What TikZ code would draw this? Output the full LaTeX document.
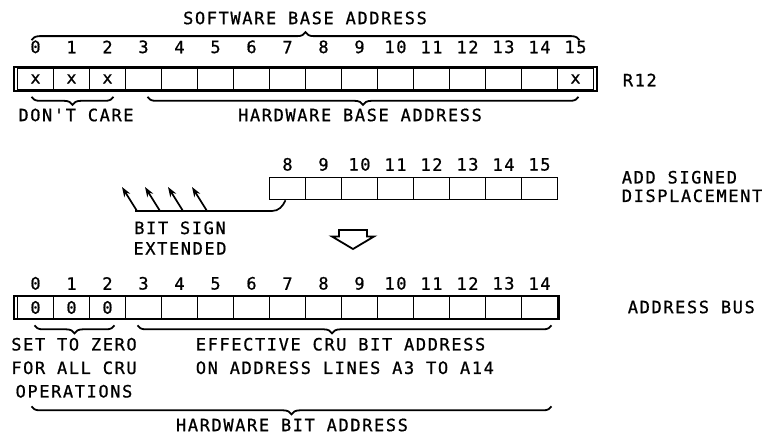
\documentclass[tikz,border=0pt]{standalone}
\usepackage{fontspec}
\usepackage{tikz}
\usetikzlibrary{arrows.meta, decorations.pathreplacing}
\newfontfamily\dinfont[LetterSpace=9.4, FakeBold=0.8]{DejaVu Sans Mono}
\newcommand{\dinsize}{\dinfont\fontsize{17}{23.5}\selectfont}

\begin{document}
\begin{tikzpicture}[x=1pt, y=-1pt, line width=1.7pt,
    cell/.style={draw, rectangle, minimum width=36pt, minimum height=22pt, inner sep=0pt, font=\dinsize},
    num/.style={font=\dinsize, inner sep=0pt},
    txt/.style={font=\dinsize, inner sep=0pt},
    frame/.style={line width=1.9pt},
    brace/.style={decorate, decoration={brace, amplitude=8pt}, line width=1.8pt},
    conn/.style={line width=1.7pt}]

        \useasboundingbox (0,0) rectangle (766,435);

        % Register R12 (software base address)
        \node[cell, label={[num, label distance=13pt]above:0}] (r0) at (35.5,79) {x};
        \node[cell, label={[num, label distance=13pt]above:1}] (r1) at (71.5,79) {x};
        \node[cell, label={[num, label distance=13pt]above:2}] (r2) at (107.5,79) {x};
        \node[cell, label={[num, label distance=13pt]above:3}] (r3) at (143.5,79) {};
        \node[cell, label={[num, label distance=13pt]above:4}] (r4) at (179.5,79) {};
        \node[cell, label={[num, label distance=13pt]above:5}] (r5) at (215.5,79) {};
        \node[cell, label={[num, label distance=13pt]above:6}] (r6) at (251.5,79) {};
        \node[cell, label={[num, label distance=13pt]above:7}] (r7) at (287.5,79) {};
        \node[cell, label={[num, label distance=13pt]above:8}] (r8) at (323.5,79) {};
        \node[cell, label={[num, label distance=13pt]above:9}] (r9) at (359.5,79) {};
        \node[cell, label={[num, label distance=13pt]above:10}] (r10) at (395.5,79) {};
        \node[cell, label={[num, label distance=13pt]above:11}] (r11) at (431.5,79) {};
        \node[cell, label={[num, label distance=13pt]above:12}] (r12) at (467.5,79) {};
        \node[cell, label={[num, label distance=13pt]above:13}] (r13) at (503.5,79) {};
        \node[cell, label={[num, label distance=13pt]above:14}] (r14) at (539.5,79) {};
        \node[cell, label={[num, label distance=13pt]above:15}] (r15) at (575.5,79) {x};
        \draw[frame] ([xshift=-3pt]r0.north west) rectangle ([xshift=2.5pt]r15.south east);

        \node[txt] (sba) at (305,18) {SOFTWARE BASE ADDRESS};
        \node[txt, anchor=west] (reg) at (622,80) {R12};
        \node[txt] (dc) at (76,115) {DON'T CARE};
        \node[txt] (hba) at (360,115) {HARDWARE BASE ADDRESS};

        \draw[brace] ([xshift=-4pt,yshift=27pt]r0.north) -- ([xshift=4pt,yshift=27pt]r15.north);
        \draw[brace, decoration={mirror}] ([xshift=-4pt,yshift=-6pt]r0.south) -- ([xshift=6pt,yshift=-6pt]r2.south);
        \draw[brace, decoration={mirror}] ([xshift=4pt,yshift=-6pt]r3.south) -- ([xshift=3pt,yshift=-6pt]r15.south);

        % Signed displacement
        \node[cell, label={[num, label distance=5pt]above:8}] (m8) at (287.5,188.5) {};
        \node[cell, label={[num, label distance=5pt]above:9}] (m9) at (323.5,188.5) {};
        \node[cell, label={[num, label distance=5pt]above:10}] (m10) at (359.5,188.5) {};
        \node[cell, label={[num, label distance=5pt]above:11}] (m11) at (395.5,188.5) {};
        \node[cell, label={[num, label distance=5pt]above:12}] (m12) at (431.5,188.5) {};
        \node[cell, label={[num, label distance=5pt]above:13}] (m13) at (467.5,188.5) {};
        \node[cell, label={[num, label distance=5pt]above:14}] (m14) at (503.5,188.5) {};
        \node[cell, label={[num, label distance=5pt]above:15}] (m15) at (539.5,188.5) {};

        \node[txt, anchor=north west, align=left] (asd) at (621,170) {ADD SIGNED\\[-5pt]DISPLACEMENT};
        \node[txt, align=center] (bse) at (180,238) {BIT SIGN\\[-3pt]EXTENDED};

        % Sign extension line and arrows
        \coordinate (bend) at (272,211);
        \coordinate (s0) at (135,211);
        \coordinate (t1) at (137,211);
        \coordinate (t2) at (160,211);
        \coordinate (t3) at (183,211);
        \coordinate (t4) at (207,211);
        \coordinate (h1) at (122,187);
        \coordinate (h2) at (145,187);
        \coordinate (h3) at (168,187);
        \coordinate (h4) at (192,187);
        \draw[conn] ([xshift=-2pt]m8.south) to[out=-115, in=0] (bend) -- (s0);
        \draw[conn, -{Stealth[length=10pt, width=7pt]}] (t1) -- (h1);
        \draw[conn, -{Stealth[length=10pt, width=7pt]}] (t2) -- (h2);
        \draw[conn, -{Stealth[length=10pt, width=7pt]}] (t3) -- (h3);
        \draw[conn, -{Stealth[length=10pt, width=7pt]}] (t4) -- (h4);

        % Hollow down arrow
        \draw[line width=1.8pt, line join=miter] (339,230) -- (367,230) -- (367,236.5) -- (374,236.5) -- (353,249) -- (332,236.5) -- (339,236.5) -- cycle;

        % Address bus
        \node[cell, label={[num, label distance=5pt]above:0}] (b0) at (35.5,307.5) {0};
        \node[cell, label={[num, label distance=5pt]above:1}] (b1) at (71.5,307.5) {0};
        \node[cell, label={[num, label distance=5pt]above:2}] (b2) at (107.5,307.5) {0};
        \node[cell, label={[num, label distance=5pt]above:3}] (b3) at (143.5,307.5) {};
        \node[cell, label={[num, label distance=5pt]above:4}] (b4) at (179.5,307.5) {};
        \node[cell, label={[num, label distance=5pt]above:5}] (b5) at (215.5,307.5) {};
        \node[cell, label={[num, label distance=5pt]above:6}] (b6) at (251.5,307.5) {};
        \node[cell, label={[num, label distance=5pt]above:7}] (b7) at (287.5,307.5) {};
        \node[cell, label={[num, label distance=5pt]above:8}] (b8) at (323.5,307.5) {};
        \node[cell, label={[num, label distance=5pt]above:9}] (b9) at (359.5,307.5) {};
        \node[cell, label={[num, label distance=5pt]above:10}] (b10) at (395.5,307.5) {};
        \node[cell, label={[num, label distance=5pt]above:11}] (b11) at (431.5,307.5) {};
        \node[cell, label={[num, label distance=5pt]above:12}] (b12) at (467.5,307.5) {};
        \node[cell, label={[num, label distance=5pt]above:13}] (b13) at (503.5,307.5) {};
        \node[cell, label={[num, label distance=5pt]above:14}] (b14) at (539.5,307.5) {};
        \draw[frame] ([xshift=-3pt]b0.north west) rectangle ([xshift=1pt]b14.south east);

        \node[txt, anchor=west] (bus) at (627,307) {ADDRESS BUS};
        \node[txt, anchor=north, align=center] (stz) at (74,337) {SET TO ZERO\\FOR ALL CRU\\OPERATIONS};
        \node[txt, anchor=north west, align=left] (ecru) at (195,337) {EFFECTIVE CRU BIT ADDRESS\\ON ADDRESS LINES A3 TO A14};
        \node[txt] (hbit) at (292,425) {HARDWARE BIT ADDRESS};

        \draw[brace, decoration={mirror}] ([xshift=-1pt,yshift=-6pt]b0.south) -- ([xshift=7pt,yshift=-6pt]b2.south);
        \draw[brace, decoration={mirror, aspect=0.47}] ([xshift=-6pt,yshift=-6pt]b3.south) -- ([xshift=12pt,yshift=-6pt]b14.south);
        \draw[brace, decoration={mirror}] ([xshift=-4pt,yshift=-87pt]b0.south) -- ([xshift=12pt,yshift=-87pt]b14.south);

    \end{tikzpicture}
\end{document}
